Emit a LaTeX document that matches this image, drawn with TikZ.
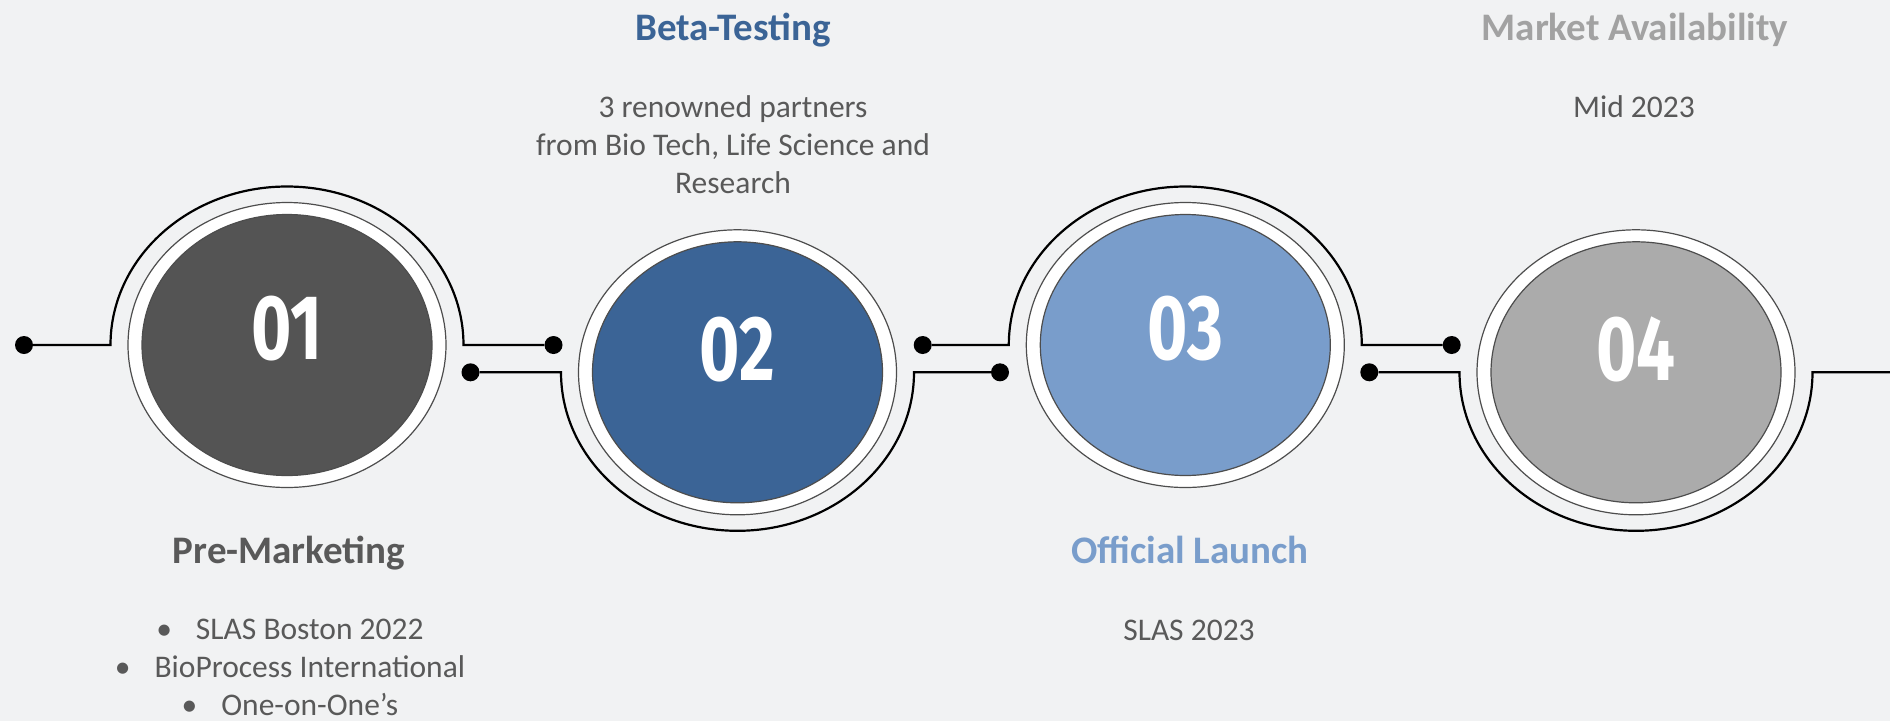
\documentclass[tikz,border=0pt]{standalone}
\usepackage{fontspec}
\setmainfont{Carlito}
\newfontfamily\numfont[FakeStretch=0.75]{Fira Sans}
\usetikzlibrary{shapes.geometric,calc,positioning}
\definecolor{paper}{HTML}{F1F2F3}
\definecolor{ink}{HTML}{595959}
\definecolor{rim}{HTML}{4D4D4D}
\definecolor{stepA}{HTML}{545454}
\definecolor{stepB}{HTML}{3B6496}
\definecolor{stepC}{HTML}{799DCB}
\definecolor{stepD}{HTML}{ABABAB}

\begin{document}
\begin{tikzpicture}[
  x=1pt, y=-1pt,
  ring/.style={ellipse, draw=rim, line width=1.2pt, fill=white, minimum width=318pt, minimum height=285pt, inner sep=0pt},
  disc/.style={ellipse, draw=rim, line width=1.2pt, minimum width=290pt, minimum height=261pt, inner sep=0pt},
  num/.style={text=white, font=\numfont\bfseries\fontsize{92}{92}\selectfont, inner sep=0pt},
  wire/.style={line width=2.2pt, draw=black},
  dot/.style={circle, fill=black, minimum size=18pt, inner sep=0pt},
  head/.style={font=\bfseries\fontsize{39}{46}\selectfont, anchor=base, inner sep=0pt},
  body/.style={font=\fontsize{31.5}{37.8}\selectfont, text=ink, anchor=base, align=center, inner sep=0pt}
]
\useasboundingbox (0,0) rectangle (1890,721);
\fill[paper] (0,0) rectangle (1890,721);

% the four steps
\node[ring] (r1) at (287,345) {};
\node[ring] (r2) at (737.5,372.3) {};
\node[ring] (r3) at (1185.3,345) {};
\node[ring] (r4) at (1636,372.3) {};
\node[disc, fill=stepA] (c1) at (r1) {};
\node[disc, fill=stepB] (c2) at (r2) {};
\node[disc, fill=stepC] (c3) at (r3) {};
\node[disc, fill=stepD] (c4) at (r4) {};
\node[num] (n1) at ($(c1)+(0,-16)$) {01};
\node[num] (n2) at ($(c2)+(0,-23)$) {02};
\node[num] (n3) at ($(c3)+(0,-16)$) {03};
\node[num] (n4) at ($(c4)+(0,-23)$) {04};

% dots and arc ends
\node[dot] (d0) at (24,345) {};
\node[dot] (d1) at (553.5,345) {};
\node[dot] (d2) at (470.5,372.3) {};
\node[dot] (d3) at (1000,372.3) {};
\node[dot] (d4) at (922.7,345) {};
\node[dot] (d5) at (1451.7,345) {};
\node[dot] (d6) at (1369.3,372.3) {};
\coordinate (w1) at ($(c1)+(-176.5,0)$);
\coordinate (w2) at ($(c2)+(-176.5,0)$);
\coordinate (w3) at ($(c3)+(-176.5,0)$);
\coordinate (w4) at ($(c4)+(-176.5,0)$);
\coordinate (edge) at (1890,372.3);

\draw[wire] (d0) -- (w1) arc[start angle=180, end angle=360, x radius=176.5, y radius=158.5] -- (d1);
\draw[wire] (d2) -- (w2) arc[start angle=180, end angle=0, x radius=176.5, y radius=158.5] -- (d3);
\draw[wire] (d4) -- (w3) arc[start angle=180, end angle=360, x radius=176.5, y radius=158.5] -- (d5);
\draw[wire] (d6) -- (w4) arc[start angle=180, end angle=0, x radius=176.5, y radius=158.5] -- (edge);

% labels (base of a multi-line node = its last line)
\node[head, text=stepB] (beta) at (733,40) {Beta-Testing};
\node[body] (betatxt) at (733,193) {3 renowned partners\\from Bio Tech, Life Science and\\Research};
\node[head, text=ink] (pre) at (289,563) {Pre-Marketing};
\node[body] (pretxt) at (290,715) {•\hspace{24pt}SLAS Boston 2022\\•\hspace{24pt}BioProcess International\\•\hspace{24pt}One-on-One’s};
\node[head, text=stepC] (launch) at (1190,563) {Official Launch};
\node[body] (launchtxt) at (1189,640) {SLAS 2023};
\node[head, text=stepD!95!black] (market) at (1635,40) {Market Availability};
\node[body] (midtxt) at (1634,117) {Mid 2023};
\end{tikzpicture}
\end{document}
